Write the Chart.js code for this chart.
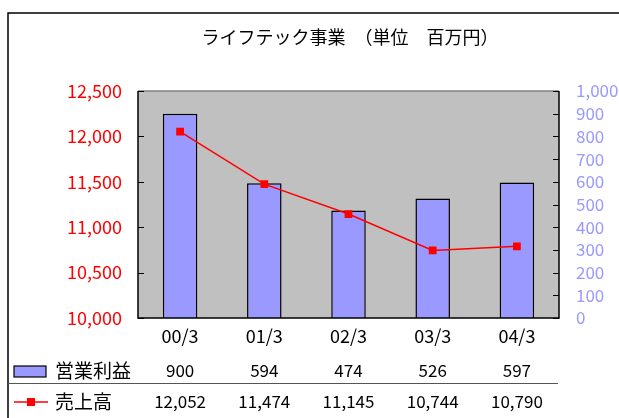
<!DOCTYPE html>
<html>
<head>
<meta charset="utf-8">
<script src="https://cdn.jsdelivr.net/npm/chart.js@4/dist/chart.umd.min.js"></script>
<style>
  html, body { margin: 0; padding: 0; background: #fff; }
  #wrap { width: 619px; height: 418px; }
</style>
</head>
<body>
<div id="wrap"><canvas id="grafico"></canvas></div>
<script>
const categorias = ['00/3', '01/3', '02/3', '03/3', '04/3'];
const eigyoRieki = [900, 594, 474, 526, 597];
const uriage = [12052, 11474, 11145, 10744, 10790];
const nombreBarra = '営業利益';
const nombreLinea = '売上高';
const titulo = 'ライフテック事業　（単位　百万円）';

const fuente = "'Noto Sans CJK JP', 'Noto Sans', sans-serif";
const fmt = v => v.toLocaleString('en-US');

// marco exterior, titulo y fondo gris del area de trazado
const fondo = {
  id: 'fondo',
  beforeDraw(chart) {
    const { ctx, chartArea: a } = chart;
    ctx.save();
    ctx.fillStyle = '#fff';
    ctx.fillRect(0, 0, chart.width, chart.height);
    ctx.strokeStyle = '#000';
    ctx.lineWidth = 1.5;
    ctx.strokeRect(8, 13, chart.width + 20, chart.height + 20);
    ctx.fillStyle = '#c0c0c0';
    ctx.fillRect(a.left, a.top, a.right - a.left, a.bottom - a.top);
    // el titulo va centrado en el marco, que sigue mas alla del borde derecho
    ctx.fillStyle = '#000';
    ctx.font = '18px ' + fuente;
    ctx.textAlign = 'center';
    ctx.textBaseline = 'middle';
    ctx.fillText(titulo, 350, 37);
    ctx.restore();
  },
  afterDatasetsDraw(chart) {
    const { ctx, chartArea: a } = chart;
    ctx.save();
    ctx.lineWidth = 1.5;
    ctx.strokeStyle = '#808080';
    ctx.beginPath();
    ctx.moveTo(a.left, a.top); ctx.lineTo(a.right, a.top);
    ctx.stroke();
    ctx.strokeStyle = '#000';
    ctx.beginPath();
    ctx.moveTo(a.left, a.top); ctx.lineTo(a.left, a.bottom); ctx.lineTo(a.right, a.bottom); ctx.lineTo(a.right, a.top);
    ctx.stroke();
    // marcas de los ejes hacia dentro
    ctx.lineWidth = 1;
    const yl = chart.scales.yL, yr = chart.scales.yR;
    yl.ticks.forEach(t => {
      const y = Math.round(yl.getPixelForValue(t.value)) + 0.5;
      ctx.beginPath(); ctx.moveTo(a.left, y); ctx.lineTo(a.left + 6, y); ctx.stroke();
    });
    yr.ticks.forEach(t => {
      const y = Math.round(yr.getPixelForValue(t.value)) + 0.5;
      ctx.beginPath(); ctx.moveTo(a.right - 6, y); ctx.lineTo(a.right, y); ctx.stroke();
    });
    ctx.restore();
  }
};

// tabla de datos debajo del grafico
const tabla = {
  id: 'tabla',
  afterDraw(chart) {
    const { ctx } = chart;
    const x = chart.scales.x;
    const fila1 = 371, fila2 = 402;
    ctx.save();
    ctx.font = '17px ' + fuente;
    ctx.fillStyle = '#000';
    ctx.textBaseline = 'middle';
    ctx.textAlign = 'center';
    eigyoRieki.forEach((v, i) => ctx.fillText(fmt(v), x.getPixelForValue(i), fila1));
    uriage.forEach((v, i) => ctx.fillText(fmt(v), x.getPixelForValue(i), fila2));
    ctx.textAlign = 'left';
    ctx.font = '19px ' + fuente;
    ctx.fillText(nombreBarra, 55, fila1);
    ctx.fillText(nombreLinea, 55, fila2);
    // simbolos de leyenda
    ctx.fillStyle = '#9999ff';
    ctx.fillRect(14, fila1 - 5, 32, 11);
    ctx.strokeStyle = '#000';
    ctx.lineWidth = 1.2;
    ctx.strokeRect(14, fila1 - 5, 32, 11);
    ctx.strokeStyle = '#ff0000';
    ctx.lineWidth = 1.5;
    ctx.beginPath(); ctx.moveTo(14, fila2); ctx.lineTo(48, fila2); ctx.stroke();
    ctx.fillStyle = '#ff0000';
    ctx.fillRect(27, fila2 - 4, 8, 8);
    // separador
    ctx.strokeStyle = '#555';
    ctx.lineWidth = 1;
    ctx.beginPath(); ctx.moveTo(8, 383.5); ctx.lineTo(558, 383.5); ctx.stroke();
    ctx.restore();
  }
};

new Chart(document.getElementById('grafico').getContext('2d'), {
  data: {
    labels: categorias,
    datasets: [
      {
        type: 'line',
        label: nombreLinea,
        data: uriage,
        yAxisID: 'yL',
        borderColor: '#ff0000',
        backgroundColor: '#ff0000',
        borderWidth: 1.5,
        pointStyle: 'rect',
        pointRadius: 5.5,
        pointBorderWidth: 0,
        tension: 0,
        order: 0
      },
      {
        type: 'bar',
        label: nombreBarra,
        data: eigyoRieki,
        yAxisID: 'yR',
        backgroundColor: '#9999ff',
        borderColor: '#000',
        borderWidth: 1.5,
        barPercentage: 0.41,
        categoryPercentage: 1,
        order: 1
      }
    ]
  },
  options: {
    responsive: true,
    maintainAspectRatio: false,
    animation: false,
    layout: { padding: { top: 91 } },
    plugins: {
      legend: { display: false },
      tooltip: { enabled: false },
      title: { display: false }
    },
    scales: {
      x: {
        grid: { display: false, drawTicks: false },
        border: { display: false },
        ticks: { color: '#000', font: { family: fuente, size: 18 }, padding: 7 },
        afterFit: s => { s.height = 100; }
      },
      yL: {
        position: 'left',
        min: 10000,
        max: 12500,
        grid: { display: false, drawTicks: false },
        border: { display: false },
        ticks: { stepSize: 500, color: '#ff0000', padding: 16, font: { family: fuente, size: 18 }, callback: v => fmt(v) },
        afterFit: s => { s.width = 138; }
      },
      yR: {
        position: 'right',
        min: 0,
        max: 1000,
        grid: { display: false, drawTicks: false },
        border: { display: false },
        ticks: { stepSize: 100, autoSkip: false, color: '#9999ff', padding: 17, font: { family: fuente, size: 17 }, callback: v => fmt(v) },
        afterFit: s => { s.width = 60; }
      }
    }
  },
  plugins: [fondo, tabla]
});
</script>
</body>
</html>
